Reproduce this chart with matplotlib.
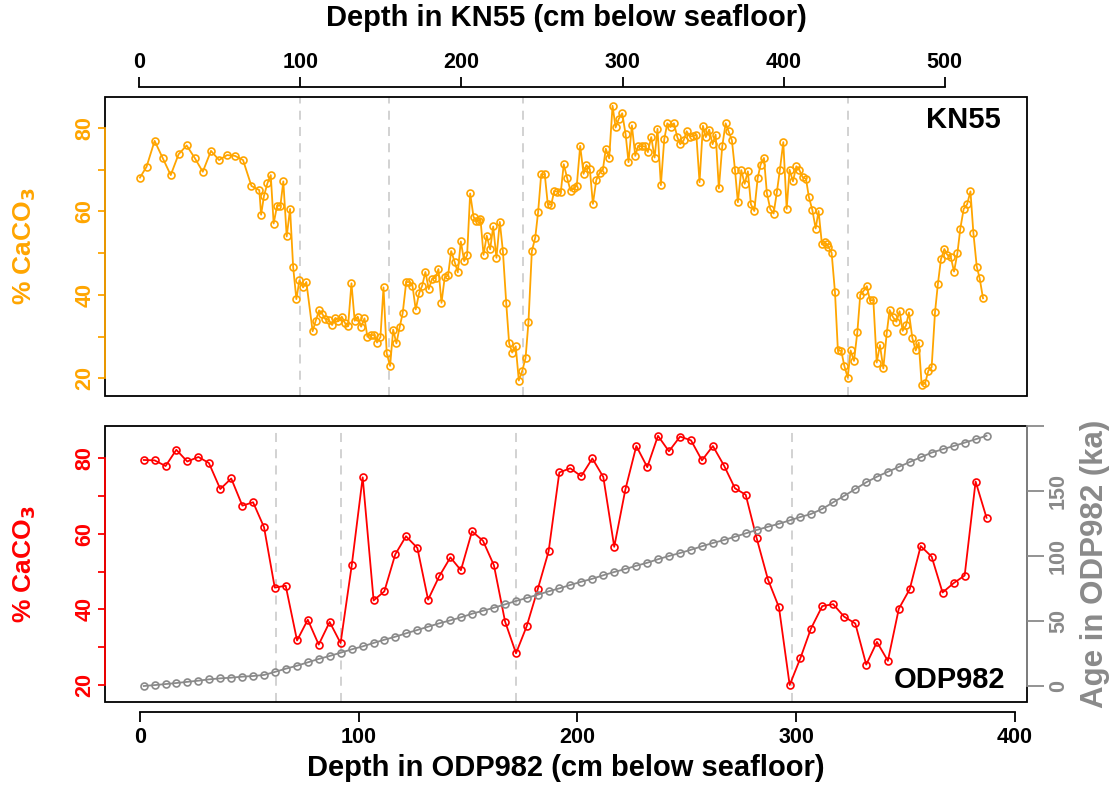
import matplotlib
matplotlib.use("Agg")
import matplotlib.pyplot as plt
from matplotlib.patches import Rectangle

plt.rcParams['font.family'] = ['Liberation Sans', 'DejaVu Sans']
plt.rcParams['font.weight'] = 'bold'

# KN55 core: depth (cm) and % CaCO3
kn55_depth = [0.4, 4.5, 9.5, 14.5, 19.5, 24.4, 29.4, 34.4, 39.4, 44.5, 49.5, 54.5, 59.4, 64.4, 69.6, 74.5,
              75.6, 77.4, 79.5, 81.6, 83.4, 85.5, 87.6, 89.4, 91.5, 93.6, 95.5, 97.5, 99.4, 101.7, 103.7,
              107.6, 109.5, 111.6, 113.7, 115.5, 117.6, 119.7, 121.7, 123.6, 125.7, 127.8, 129.6, 131.7,
              133.7, 135.6, 137.7, 139.8, 141.6, 143.7, 145.8, 147.6, 149.7, 151.6, 153.6, 155.7, 157.6,
              159.6, 161.7, 163.5, 165.7, 167.7, 169.6, 171.6, 173.7, 175.6, 177.6, 179.7, 181.8, 183.9,
              185.7, 187.6, 189.6, 191.7, 193.6, 195.7, 197.7, 199.6, 201.7, 203.5, 205.4, 207.5, 209.3,
              210.6, 211.8, 213.7, 215.7, 217.8, 219.7, 221.7, 223.8, 225.7, 227.8, 229.6, 231.5, 233.7,
              235.6, 237.7, 239.8, 241.6, 243.7, 245.8, 247.6, 249.5, 251.7, 253.6, 255.7, 257.6, 259.6,
              261.7, 263.5, 265.6, 267.7, 269.8, 271.6, 273.7, 275.8, 277.6, 279.7, 281.6, 283.7, 285.7,
              287.8, 289.6, 291.7, 293.8, 295.7, 297.7, 299.8, 301.9, 303.7, 305.8, 307.9, 309.7, 311.8,
              313.9, 315.7, 317.8, 319.9, 321.7, 323.8, 325.9, 327.8, 329.8, 331.9, 334.0, 335.8, 337.9,
              339.8, 341.8, 343.9, 345.8, 347.8, 349.9, 351.7, 353.8, 355.9, 357.8, 359.8, 361.9, 364.0,
              365.8, 367.9, 369.8, 371.6, 373.7, 375.8, 377.8, 379.7, 381.8, 383.9, 385.7, 387.8, 389.6,
              391.7, 393.8, 395.8, 397.7, 399.8, 401.9, 403.7, 405.8, 407.9, 409.7, 411.8, 413.9, 415.7,
              417.8, 419.9, 421.7, 423.8, 425.6, 426.7, 427.7, 429.8, 431.9, 433.7, 435.8, 437.7, 439.8,
              441.6, 443.7, 445.8, 447.6, 449.7, 451.7, 453.6, 455.7, 457.8, 459.8, 461.9, 464.0, 465.8,
              467.9, 470.0, 472.0, 473.9, 476.0, 477.8, 479.9, 482.0, 483.9, 485.7, 487.8, 489.9, 491.9,
              494.0, 495.8, 497.7, 499.8, 501.6, 503.7, 505.8, 507.9, 509.7, 511.8, 513.9, 516.0, 517.8,
              519.9, 521.7, 523.8]
kn55_caco3 = [68.1, 70.7, 76.9, 72.8, 68.7, 73.7, 75.8, 72.8, 69.5, 74.5, 72.3, 73.5, 73.3, 72.3, 66.1, 65.1,
              59.2, 63.7, 66.7, 68.7, 57.1, 61.3, 61.4, 67.2, 54.0, 60.6, 46.7, 39.0, 43.5, 41.8, 43.1,
              31.3, 33.8, 36.3, 35.4, 34.2, 34.0, 32.8, 34.5, 33.7, 34.8, 33.2, 32.5, 42.8, 33.8, 34.8,
              32.4, 34.4, 30.0, 30.4, 30.4, 28.6, 29.9, 41.8, 26.0, 23.0, 31.7, 28.4, 32.4, 35.6, 43.1,
              43.1, 42.2, 36.5, 40.4, 42.2, 45.5, 41.4, 43.9, 44.1, 46.2, 38.1, 44.2, 44.7, 50.5, 48.0,
              45.4, 52.8, 48.1, 49.5, 64.3, 58.7, 57.7, 57.8, 58.2, 49.6, 54.2, 50.9, 56.4, 48.9, 57.5,
              50.6, 38.0, 28.4, 26.2, 27.7, 19.5, 21.8, 24.9, 33.5, 50.5, 53.7, 59.9, 68.9, 68.9, 61.7,
              61.6, 64.9, 64.7, 64.7, 71.3, 68.0, 65.0, 65.5, 66.2, 75.7, 69.0, 71.1, 70.1, 61.8, 67.5,
              69.2, 70.0, 75.0, 72.7, 85.3, 80.1, 82.2, 83.5, 78.5, 71.8, 80.6, 73.3, 75.7, 75.6, 75.6,
              74.2, 77.8, 72.9, 79.8, 66.3, 77.3, 81.1, 80.2, 81.1, 77.8, 76.1, 77.0, 79.2, 77.9, 78.1,
              78.4, 67.0, 80.5, 77.8, 79.6, 76.1, 78.4, 65.5, 75.6, 81.1, 79.2, 77.0, 70.0, 62.2, 69.9,
              66.6, 69.6, 61.7, 60.1, 68.0, 71.2, 72.8, 64.4, 60.6, 59.5, 64.6, 70.0, 76.6, 60.6, 70.0,
              67.2, 70.8, 70.0, 68.2, 67.8, 63.4, 60.4, 55.9, 60.1, 52.1, 52.6, 52.1, 51.6, 50.1, 40.6,
              26.7, 26.6, 23.0, 20.2, 26.7, 24.2, 31.2, 40.1, 41.0, 42.1, 38.7, 38.8, 23.8, 28.0, 22.4,
              30.8, 36.4, 34.7, 33.6, 36.1, 31.4, 32.7, 35.8, 29.7, 26.7, 28.6, 18.5, 18.8, 21.9, 22.7,
              35.9, 42.7, 48.6, 51.0, 49.6, 49.2, 45.6, 50.0, 55.9, 60.6, 61.7, 64.8, 54.9, 46.8, 44.0,
              39.2]

# ODP982: depth (cm), % CaCO3 and age (ka)
odp_depth = [1.7, 6.7, 11.7, 16.6, 21.6, 26.7, 31.5, 36.7, 41.7, 46.8, 51.7, 56.7, 61.6, 66.6, 71.8, 76.7,
             81.7, 86.7, 91.7, 96.8, 101.8, 106.8, 111.7, 116.7, 121.6, 126.8, 131.7, 136.8, 141.9, 146.7,
             151.8, 156.8, 161.8, 166.9, 171.9, 176.8, 181.8, 186.8, 191.7, 196.7, 201.7, 206.8, 211.8,
             216.8, 221.9, 226.9, 231.9, 236.8, 241.8, 246.9, 251.9, 256.9, 261.9, 267.0, 272.0, 276.9,
             281.9, 287.1, 292.1, 297.0, 301.9, 306.7, 311.9, 316.9, 321.9, 327.0, 332.0, 336.9, 341.9,
             346.9, 351.9, 356.9, 361.9, 366.9, 372.0, 377.0, 382.0, 387.0]
odp_caco3 = [79.6, 79.5, 78.0, 82.3, 79.2, 80.4, 78.8, 71.9, 74.7, 67.5, 68.4, 61.8, 45.8, 46.3, 31.8, 37.3,
             30.7, 36.7, 31.1, 51.7, 75.0, 42.4, 44.8, 54.6, 59.4, 56.3, 42.6, 48.8, 53.8, 50.4, 60.7,
             58.2, 51.7, 36.8, 28.4, 35.6, 45.3, 55.4, 76.3, 77.4, 75.3, 80.0, 75.1, 56.6, 71.8, 83.3,
             77.7, 86.0, 81.9, 85.8, 84.8, 79.5, 83.3, 78.1, 72.1, 70.4, 58.9, 47.9, 40.6, 20.0, 27.1,
             34.9, 40.9, 41.4, 38.1, 36.3, 25.4, 31.4, 26.4, 40.2, 45.4, 56.8, 54.0, 44.5, 47.0, 49.0,
             73.9, 64.3]
odp_age = [0.0, 0.7, 1.5, 2.3, 3.2, 4.1, 5.1, 5.9, 6.4, 7.2, 7.7, 8.5, 10.8, 13.3, 15.6, 18.2, 20.8, 23.1,
           25.6, 28.2, 30.5, 33.1, 35.6, 37.9, 40.5, 43.1, 45.6, 48.2, 50.5, 52.8, 55.6, 57.9, 60.2, 62.8,
           65.4, 67.7, 70.2, 72.8, 75.1, 77.7, 80.2, 82.5, 85.2, 87.7, 90.0, 92.5, 94.8, 97.5, 100.0, 102.3,
           104.8, 107.5, 110.0, 112.3, 114.8, 117.4, 120.0, 122.5, 124.8, 127.4, 130.0, 132.3, 136.2, 141.3,
           146.2, 151.5, 156.7, 161.0, 164.8, 168.5, 172.3, 175.9, 179.5, 182.1, 184.6, 187.2, 189.8, 192.5]

# tie points between the two cores (dashed lines)
kn55_ties = [100, 155, 238, 440]
odp_ties = [62, 92, 172, 298]

ORANGE = '#FFA500'
RED = '#FF0000'
GREY = '#8A8A8A'
DASH = '#CFCFCF'

fig = plt.figure(figsize=(11.2, 7.86), dpi=100)
W, H = 1120, 786


def frame(l, t, r, b):
    return [l / W, 1 - b / H, (r - l) / W, (b - t) / H]


def box(ax):
    for s in ax.spines.values():
        s.set_visible(False)
    ax.add_patch(Rectangle((0, 0), 1, 1, transform=ax.transAxes, fill=False,
                           lw=1.3, ec='black', zorder=5, clip_on=False))


def caco3_axis(ax, col):
    ax.spines['left'].set_visible(True)
    ax.spines['left'].set_color(col)
    ax.spines['left'].set_linewidth(1.3)
    ax.spines['left'].set_bounds(20, 80)
    ax.spines['left'].set_zorder(6)
    ax.set_yticks([20, 30, 40, 50, 60, 70, 80],
                  ['20', '', '40', '', '60', '', '80'], rotation=90, va='center')
    ax.tick_params(axis='y', colors=col, length=5, width=1.3, labelsize=15.5, pad=2)
    ax.set_ylabel('% CaCO$_\\mathbf{3}$', color=col, fontsize=19, fontweight='bold')
    ax.yaxis.set_label_coords(-0.087, 0.5)
    ax.yaxis.label.set_va('center')


# ---- top panel: KN55 ----
ax1 = fig.add_axes(frame(105, 97, 1027, 396))
box(ax1)
for d in kn55_ties:
    ax1.axvline(d, color=DASH, lw=1.3, ls=(0, (5, 4)), zorder=1)
ax1.plot(kn55_depth, kn55_caco3, '-o', color=ORANGE, lw=1.3, ms=5, mfc='none', mew=1.2, zorder=3)
ax1.set_xlim(-21.3, 551.1)
ax1.set_ylim(15.8, 87.4)
caco3_axis(ax1, ORANGE)
ax1.xaxis.set_ticks_position('top')
ax1.xaxis.set_label_position('top')
ax1.spines['top'].set_visible(True)
ax1.spines['top'].set_position(('outward', 7))
ax1.spines['top'].set_bounds(0, 500)
ax1.spines['top'].set_linewidth(1.3)
ax1.set_xticks([0, 100, 200, 300, 400, 500])
ax1.tick_params(axis='x', length=7, width=1.3, labelsize=15.5, pad=3)
ax1.set_xlabel('Depth in KN55 (cm below seafloor)', fontsize=21, fontweight='bold')
ax1.xaxis.set_label_coords(0.5, 1.264)
ax1.xaxis.label.set_va('center')
ax1.text(0.971, 0.97, 'KN55', transform=ax1.transAxes, ha='right', va='top',
         fontsize=21, fontweight='bold')

# ---- bottom panel: ODP982 ----
ax2 = fig.add_axes(frame(105, 426, 1027, 702))
box(ax2)
for d in odp_ties:
    ax2.axvline(d, color=DASH, lw=1.3, ls=(0, (5, 4)), zorder=1)
ax2.plot(odp_depth, odp_caco3, '-o', color=RED, lw=1.3, ms=5, mfc='none', mew=1.2, zorder=3)
ax2.set_xlim(-16, 405.5)
ax2.set_ylim(15.5, 88.6)
caco3_axis(ax2, RED)
ax2.spines['bottom'].set_visible(True)
ax2.spines['bottom'].set_position(('outward', 7))
ax2.spines['bottom'].set_bounds(0, 400)
ax2.spines['bottom'].set_linewidth(1.3)
ax2.set_xticks([0, 100, 200, 300, 400])
ax2.tick_params(axis='x', length=7, width=1.3, labelsize=15.5, pad=4)
ax2.set_xlabel('Depth in ODP982 (cm below seafloor)', fontsize=21, fontweight='bold')
ax2.xaxis.set_label_coords(0.5, -0.239)
ax2.xaxis.label.set_va('center')
ax2.text(0.976, 0.029, 'ODP982', transform=ax2.transAxes, ha='right', va='bottom',
         fontsize=21, fontweight='bold')

# age model on the right axis
ax3 = ax2.twinx()
for s in ax3.spines.values():
    s.set_visible(False)
ax3.plot(odp_depth, odp_age, '-o', color=GREY, lw=1.3, ms=5, mfc='none', mew=1.2, zorder=4)
ax3.set_ylim(-12.3, 200)
ax3.spines['right'].set_visible(True)
ax3.spines['right'].set_color(GREY)
ax3.spines['right'].set_linewidth(1.3)
ax3.spines['right'].set_bounds(0, 200)
ax3.set_yticks([0, 50, 100, 150, 200], ['0', '50', '100', '150', ''], rotation=90, va='center')
ax3.tick_params(axis='y', colors=GREY, length=12, width=1.3, labelsize=15.5, pad=3)
ax3.set_ylabel('Age in ODP982 (ka)', color=GREY, fontsize=22.5, fontweight='bold')
ax3.yaxis.set_label_coords(1.074, 0.5)
ax3.yaxis.label.set_va('center')

fig.savefig('out.png', dpi=100)
